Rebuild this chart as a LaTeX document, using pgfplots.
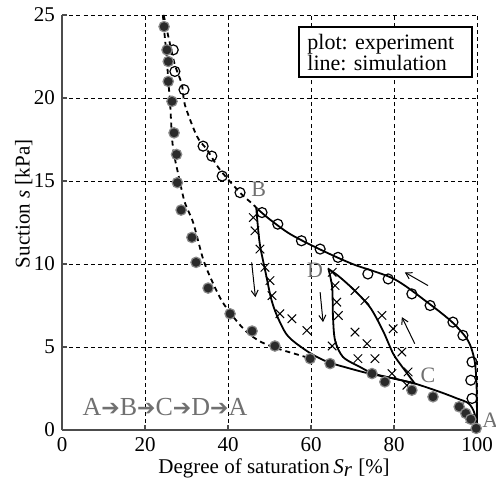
\documentclass[border=0pt]{standalone}
\usepackage{fontspec}
\setmainfont{Liberation Serif}
\newfontfamily\dejavu{DejaVu Sans}
\usepackage{pgfplots}
\pgfplotsset{compat=1.18}
\usetikzlibrary{arrows.meta}
\definecolor{lbl}{HTML}{707070}
\definecolor{dotfill}{HTML}{2A2A2A}
\definecolor{dotedge}{HTML}{8A8A8A}

% experiment
\pgfplotstableread{
x y
24.6 24.3
25.3 22.9
25.6 22.2
25.6 21.0
26.5 19.8
27.0 17.9
27.6 16.6
27.8 14.9
28.7 13.25
31.3 11.6
32.3 10.1
35.2 8.55
40.5 7.0
45.8 5.96
51.3 5.06
59.8 4.3
64.6 4.0
74.7 3.4
77.8 2.9
84.3 2.4
89.4 2.0
95.7 1.4
97.3 1.0
98.5 0.65
99.8 0.1
}\wetpts
\pgfplotstableread{
x y
26.8 22.9
27.2 21.6
29.4 20.5
34.0 17.1
36.1 16.5
38.6 15.3
42.9 14.3
48.2 13.1
52.0 12.4
57.7 11.4
62.2 10.9
66.5 10.4
73.7 9.4
78.6 9.1
84.3 8.2
88.7 7.5
94.2 6.5
96.6 5.7
98.8 4.1
98.5 3.0
98.8 1.9
}\drypts
\pgfplotstableread{
x y
46.1 12.8
46.5 12.0
47.7 10.9
48.9 9.8
50.1 9.0
50.6 8.1
52.5 7.0
55.4 6.7
59.0 6.0
65.1 9.5
65.8 8.7
66.2 7.7
66.6 6.9
65.1 5.06
70.6 8.4
73.0 7.8
77.1 6.9
70.6 5.9
73.5 5.2
79.8 6.1
71.3 4.3
75.4 4.3
81.9 4.7
79.5 3.4
83.4 3.5
83.1 2.7
95.9 1.4
98.3 0.7
}\scanpts

\begin{document}
\frenchspacing
\begin{tikzpicture}
\begin{axis}[name=ax, scale only axis, width=207.5pt, height=207.5pt,
  xmin=0, xmax=100, ymin=0, ymax=25,
  xtick={0,20,...,100}, ytick={0,5,...,25},
  axis lines*=left, axis line style={black!70, line width=0.8pt},
  grid=major, grid style={black, line width=0.45pt, dash pattern=on 2pt off 1.6pt},
  major tick length=2.5pt, tick style={black!70, line width=0.6pt},
  /pgf/number format/assume math mode=true,
  tick label style={font=\fontsize{10.5}{12}\selectfont},
  xlabel={Degree of saturation\,\textit{S}$_{\textit{r}}$ [\%]},
  ylabel={Suction \textit{s} [kPa]},
  label style={font=\fontsize{10.5}{12}\selectfont},
  xlabel style={at={(axis description cs:0.511,-0.092)}, anchor=center},
  ylabel style={at={(axis description cs:-0.092,0.545)}, anchor=center},
  clip=false]

% simulation
\addplot[black, line width=0.9pt, dash pattern=on 2.5pt off 2pt, smooth] coordinates {
 (24.3,25) (24.8,23.6) (25.3,22.3) (25.6,21) (26,19.9) (26.7,17.1) (28.2,15.2)
 (29.6,13.7) (31.6,12.5) (34,10.3) (36.1,9.0) (38.7,7.7) (42.3,6.5) (45,5.8)
 (48,5.3) (52,4.9) (56,4.6) (60,4.3)};
\addplot[black, line width=0.9pt, dash pattern=on 2.5pt off 2pt, smooth] coordinates {
 (24.5,25) (25.8,23.5) (27.2,22) (28.9,20.8) (29.6,19.6) (32.5,17.7) (34.9,16.9)
 (38,15.7) (42.9,14.3) (46,13.6) (47.2,13.3)};
\addplot[black, line width=0.9pt, smooth] coordinates {
 (47.2,13.3) (50,12.7) (55,11.8) (62,10.9) (70,10.0) (80,9.1) (88,7.7) (94,6.5)
 (97.8,5.4) (99.4,4.2) (99.9,2.6) (100,0)};
\addplot[black, line width=0.9pt, smooth] coordinates {
 (46.8,13.4) (47.3,12.0) (47.8,11.0) (49.3,9.2) (50.3,8.0) (51.3,7.2) (52.5,6.5)
 (54,5.8) (56,5.3) (60,4.6) (64,4.1) (68,3.8) (74,3.4) (80,3.1) (85,2.8)};
\addplot[black, line width=0.9pt, smooth] coordinates {
 (85,2.8) (82,3.8) (79.8,4.6) (77.3,6.0) (74.2,7.4) (70.1,8.5) (66.5,9.3) (64.2,9.7)};
\addplot[black, line width=0.9pt, smooth] coordinates {
 (64.2,9.7) (65.1,8.6) (65.3,6.8) (65.8,5.4) (67.7,4.4) (71.8,3.8) (75,3.4)
 (80,3.1) (85,2.8) (91,2.3) (95.2,1.9) (98,1.6) (99.4,1.0) (100,0)};

% experiment
\addplot[only marks, mark=x, mark size=3pt, mark options={black, line width=0.5pt}] table {\scanpts};
\addplot[only marks, mark=o, mark size=2.5pt, mark options={black, fill=white, line width=0.6pt}] table {\drypts};
\addplot[only marks, mark=*, mark size=2.6pt, mark options={fill=dotfill, draw=dotedge, line width=0.6pt}] table {\wetpts};

% annotations
\draw[black, line width=0.5pt, -{Straight Barb[length=3pt, width=3.5pt]}] (axis cs:45.7,10.1) -- (axis cs:46.6,8.0);
\draw[black, line width=0.5pt, -{Straight Barb[length=3pt, width=3.5pt]}] (axis cs:62.2,8.3) -- (axis cs:62.9,6.5);
\draw[black, line width=0.5pt, -{Straight Barb[length=3pt, width=3.5pt]}] (axis cs:85,5.2) -- (axis cs:81.9,6.8);
\draw[black, line width=0.5pt, -{Straight Barb[length=3pt, width=3.5pt]}] (axis cs:88.2,8.7) -- (axis cs:82.6,9.5);

\node[lbl, font=\fontsize{11}{12}\selectfont] at (axis cs:47.4,14.5) {B};
\node[lbl, font=\fontsize{11}{12}\selectfont] at (axis cs:61,9.6) {D};
\node[lbl, font=\fontsize{11}{12}\selectfont] at (axis cs:88.2,3.3) {C};
\node[lbl, font=\fontsize{11}{12}\selectfont] at (axis cs:103.2,0.6) {A};
\node[lbl, font=\fontsize{13}{14}\selectfont] at (axis cs:24.8,1.4)
  {A{\dejavu\bfseries\fontsize{11}{12}\selectfont ➔}B{\dejavu\bfseries\fontsize{11}{12}\selectfont ➔}C{\dejavu\bfseries\fontsize{11}{12}\selectfont ➔}D{\dejavu\bfseries\fontsize{11}{12}\selectfont ➔}A};

\node[draw=black, line width=0.6pt, fill=white, align=left, inner sep=0pt,
  minimum width=86.5pt, minimum height=25pt, text width=78pt,
  font=\fontsize{11}{10.5}\selectfont] at (axis cs:77.95,22.77)
  {plot: experiment\\line: simulation};
\end{axis}
\pgfresetboundingbox
\path (ax.south west) ++(-31pt,-29pt) rectangle ([shift={(217pt,215pt)}]ax.south west);
\end{tikzpicture}
\end{document}
